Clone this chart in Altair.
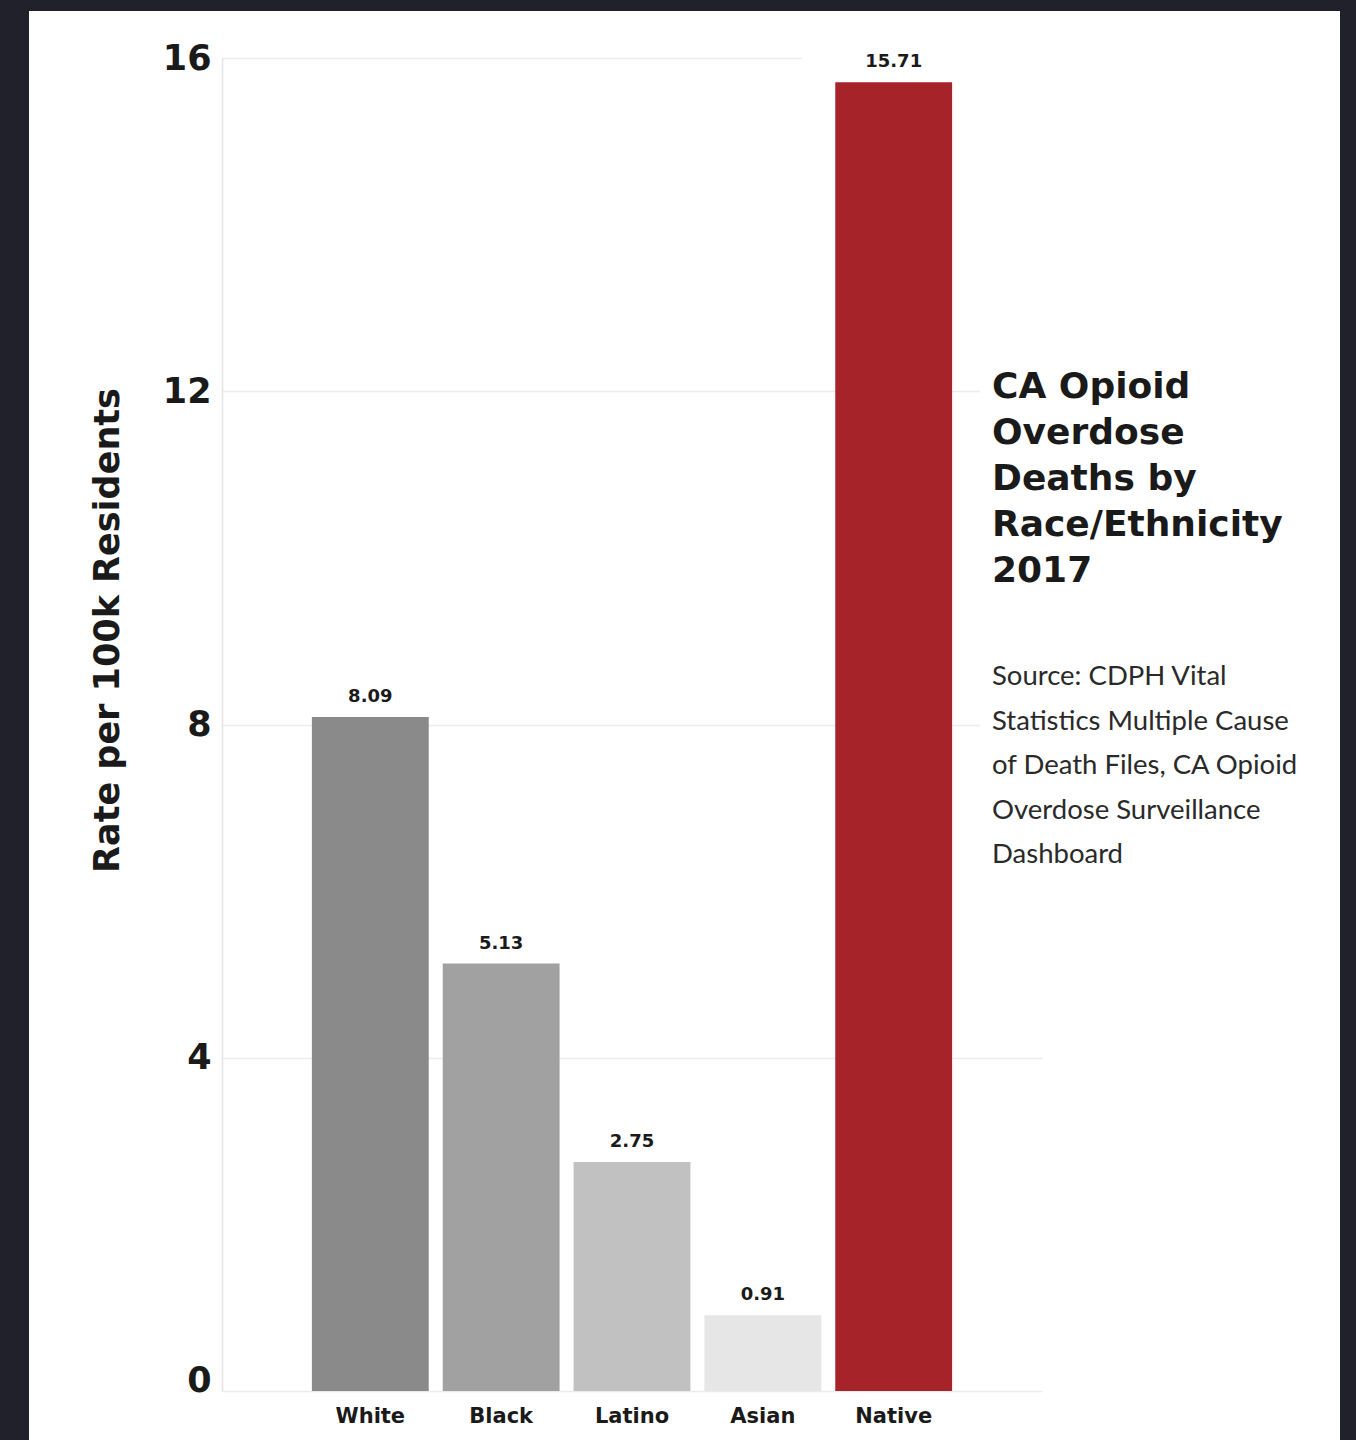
import altair as alt
import pandas as pd

# ---- data ----
categories = ["White", "Black", "Latino", "Asian", "Native"]
rates = [8.09, 5.13, 2.75, 0.91, 15.71]
bar_colors = ["#8a8a8a", "#a1a1a1", "#c1c1c1", "#e6e6e6", "#a6232a"]
y_ticks = [0, 4, 8, 12, 16]
y_title = "Rate per 100k Residents"
title_lines = ["CA Opioid", "Overdose", "Deaths by", "Race/Ethnicity", "2017"]
source_lines = [
    "Source: CDPH Vital",
    "Statistics Multiple Cause",
    "of Death Files, CA Opioid",
    "Overdose Surveillance",
    "Dashboard",
]

df = pd.DataFrame({
    "group": categories,
    "rate": rates,
    "label": [f"{v:.2f}" for v in rates],
})
one = pd.DataFrame({"k": [0]})

W, H = 820, 1333
PAD = {"left": 222, "top": 58, "right": 1356 - 222 - W, "bottom": 1440 - 58 - H}

BOLD = "DejaVu Sans"
INK = "#1a1a1a"
DARK = "#21212b"

x_enc = alt.X(
    "group:N",
    sort=categories,
    scale=alt.Scale(paddingInner=0.107, paddingOuter=0.687),
    axis=alt.Axis(
        title=None, labelAngle=0, labelFont=BOLD, labelFontWeight="bold",
        labelFontSize=21, labelColor=INK, labelBaseline="alphabetic",
        labelPadding=31, ticks=False, tickSize=0, domain=False, grid=False,
    ),
)
y_enc = alt.Y(
    "rate:Q",
    scale=alt.Scale(domain=[0, 16], nice=False, zero=True),
    axis=alt.Axis(
        values=y_ticks, format="d", title=y_title, titleFont=BOLD, titleFontWeight="bold",
        titleFontSize=35, titleColor=INK, titleAngle=270, titleAlign="center",
        titleBaseline="middle", titleX=-115, titleY=572,
        labelFont=BOLD, labelFontWeight="bold", labelFontSize=35,
        labelColor=INK, labelPadding=11,
        labelOffset={"condition": {"test": "datum.value === 0", "value": -11}, "value": 0},
        ticks=False, tickSize=0, grid=True, gridColor="#ececec", gridWidth=1.5,
        domain=True, domainColor="#e4e4e4", domainWidth=1.5,
    ),
)

bars = alt.Chart(df).mark_bar().encode(
    x=x_enc,
    y=y_enc,
    color=alt.Color("group:N", scale=alt.Scale(domain=categories, range=bar_colors), legend=None),
)

values = alt.Chart(df).mark_text(
    dy=-15, baseline="alphabetic", align="center", font=BOLD, fontWeight="bold",
    fontSize=18, color=INK,
).encode(x=alt.X("group:N", sort=categories), y="rate:Q", text="label:N")

# decoration: dark frame around the white panel
def rect(x, x2, y, y2, color):
    return alt.Chart(one).mark_rect(color=color).encode(
        x=alt.value(x), x2=alt.value(x2), y=alt.value(y), y2=alt.value(y2)
    )

frame = [
    rect(-222, -193, -58, 1382, DARK),
    rect(-222, 1134, -58, -47, DARK),
    rect(1118, 1134, -58, 1382, DARK),
]
# white masks where the reference's text boxes hide the gridlines
masks = [
    rect(758, 825, 300, 825, "#ffffff"),
    rect(580, 825, -8, 8, "#ffffff"),
]

title = alt.Chart(one).mark_text(
    text=title_lines, align="left", baseline="alphabetic", lineHeight=46,
    font=BOLD, fontWeight="bold", fontSize=36, color=INK,
).encode(x=alt.value(770), y=alt.value(340))

source = alt.Chart(one).mark_text(
    text=source_lines, align="left", baseline="alphabetic", lineHeight=44.5,
    font="Lato", fontSize=27.5, color="#2a2a2a",
).encode(x=alt.value(770), y=alt.value(627))

chart = alt.layer(
    *frame, *masks, bars, values, title, source
).properties(
    width=W, height=H, background="#ffffff", padding=PAD,
    autosize=alt.AutoSizeParams(type="none"),
).configure_view(stroke=None)

chart.save("out.html", embed_options={"renderer": "svg", "actions": False})
